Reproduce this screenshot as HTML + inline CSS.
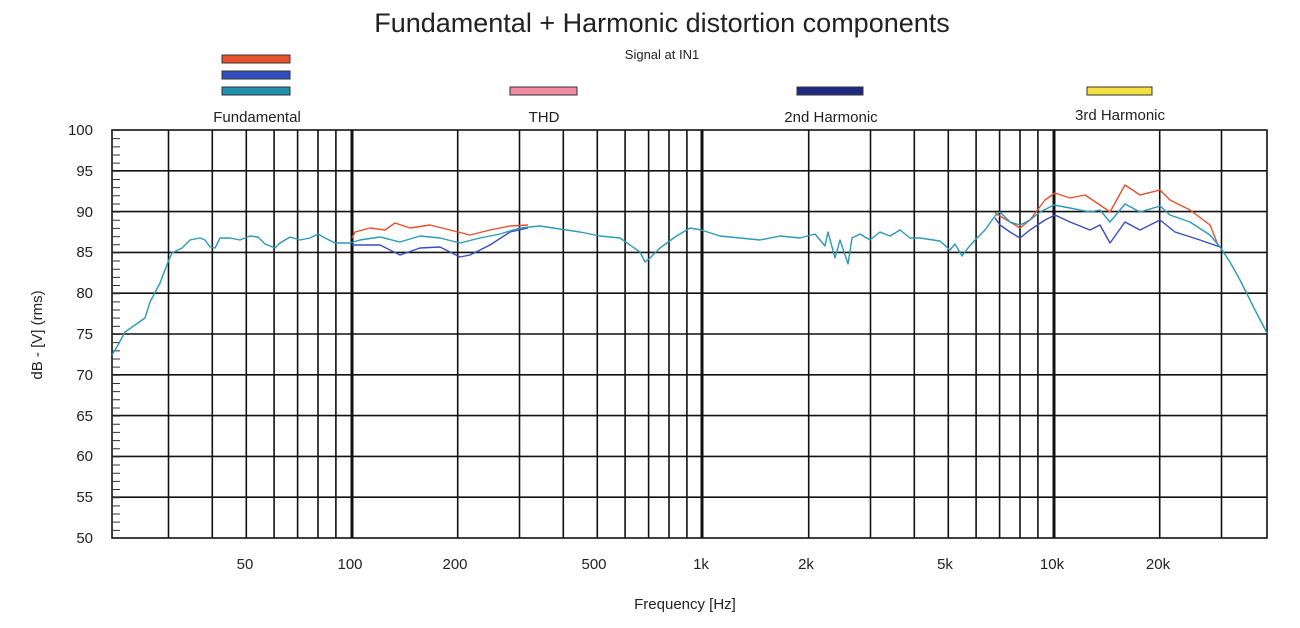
<!DOCTYPE html>
<html><head><meta charset="utf-8"><style>
body{margin:0;background:#fff;}
svg{display:block;font-family:"Liberation Sans",sans-serif;}
</style></head><body>
<svg width="1300" height="628" viewBox="0 0 1300 628" xmlns="http://www.w3.org/2000/svg">
<rect width="1300" height="628" fill="#fff"/>
<text x="662" y="32" font-size="27" text-anchor="middle" fill="#222">Fundamental + Harmonic distortion components</text>
<text x="662" y="59" font-size="13" text-anchor="middle" fill="#222">Signal at IN1</text>
<rect x="222" y="55" width="68" height="8" fill="#e8502c" stroke="#333" stroke-width="1"/>
<rect x="222" y="71" width="68" height="8" fill="#3050c0" stroke="#333" stroke-width="1"/>
<rect x="222" y="87" width="68" height="8" fill="#2090b0" stroke="#333" stroke-width="1"/>
<rect x="510" y="87" width="67" height="8" fill="#f08aa0" stroke="#333" stroke-width="1"/>
<rect x="797" y="87" width="66" height="8" fill="#202a80" stroke="#333" stroke-width="1"/>
<rect x="1087" y="87" width="65" height="8" fill="#f4e040" stroke="#333" stroke-width="1"/>
<g font-size="15" fill="#222" text-anchor="middle">
<text x="257" y="122">Fundamental</text>
<text x="544" y="122">THD</text>
<text x="831" y="122">2nd Harmonic</text>
<text x="1120" y="120">3rd Harmonic</text>
</g>
<g stroke="#111" stroke-width="1.6" fill="none">
<rect x="112" y="130" width="1155" height="408"/>
<line x1="112" x2="1267" y1="170.8" y2="170.8"/>
<line x1="112" x2="1267" y1="211.6" y2="211.6"/>
<line x1="112" x2="1267" y1="252.4" y2="252.4"/>
<line x1="112" x2="1267" y1="293.2" y2="293.2"/>
<line x1="112" x2="1267" y1="334" y2="334"/>
<line x1="112" x2="1267" y1="374.8" y2="374.8"/>
<line x1="112" x2="1267" y1="415.6" y2="415.6"/>
<line x1="112" x2="1267" y1="456.4" y2="456.4"/>
<line x1="112" x2="1267" y1="497.2" y2="497.2"/>
<line x1="116" x2="116" y1="130" y2="538" stroke-width="8" stroke-dasharray="1 7.16" stroke="#333"/>
<g>
<line x1="168.5" x2="168.5" y1="130" y2="538"/>
<line x1="212.3" x2="212.3" y1="130" y2="538"/>
<line x1="246.3" x2="246.3" y1="130" y2="538"/>
<line x1="274.1" x2="274.1" y1="130" y2="538"/>
<line x1="297.6" x2="297.6" y1="130" y2="538"/>
<line x1="318" x2="318" y1="130" y2="538"/>
<line x1="335.9" x2="335.9" y1="130" y2="538"/>
<line x1="352" x2="352" y1="130" y2="538" stroke-width="3"/>
<line x1="457.7" x2="457.7" y1="130" y2="538"/>
<line x1="519.5" x2="519.5" y1="130" y2="538"/>
<line x1="563.3" x2="563.3" y1="130" y2="538"/>
<line x1="597.3" x2="597.3" y1="130" y2="538"/>
<line x1="625.1" x2="625.1" y1="130" y2="538"/>
<line x1="648.6" x2="648.6" y1="130" y2="538"/>
<line x1="669" x2="669" y1="130" y2="538"/>
<line x1="686.9" x2="686.9" y1="130" y2="538"/>
<line x1="702" x2="702" y1="130" y2="538" stroke-width="3"/>
<line x1="808.7" x2="808.7" y1="130" y2="538"/>
<line x1="870.5" x2="870.5" y1="130" y2="538"/>
<line x1="914.3" x2="914.3" y1="130" y2="538"/>
<line x1="948.3" x2="948.3" y1="130" y2="538"/>
<line x1="976.1" x2="976.1" y1="130" y2="538"/>
<line x1="999.6" x2="999.6" y1="130" y2="538"/>
<line x1="1020" x2="1020" y1="130" y2="538"/>
<line x1="1037.9" x2="1037.9" y1="130" y2="538"/>
<line x1="1054" x2="1054" y1="130" y2="538" stroke-width="3"/>
<line x1="1159.7" x2="1159.7" y1="130" y2="538"/>
<line x1="1221.5" x2="1221.5" y1="130" y2="538"/>
</g>
</g>
<g fill="#222" font-size="15" text-anchor="end">
<text x="93" y="135">100</text><text x="93" y="176">95</text><text x="93" y="217">90</text>
<text x="93" y="257">85</text><text x="93" y="298">80</text><text x="93" y="339">75</text>
<text x="93" y="380">70</text><text x="93" y="421">65</text><text x="93" y="461">60</text>
<text x="93" y="502">55</text><text x="93" y="543">50</text>
</g>
<g fill="#222" font-size="15" text-anchor="middle">
<text x="245" y="569">50</text><text x="350" y="569">100</text><text x="455" y="569">200</text>
<text x="594" y="569">500</text><text x="701" y="569">1k</text><text x="806" y="569">2k</text>
<text x="945" y="569">5k</text><text x="1052" y="569">10k</text><text x="1158" y="569">20k</text>
</g>
<text x="685" y="609" font-size="15" text-anchor="middle" fill="#222">Frequency [Hz]</text>
<text transform="translate(42,335) rotate(-90)" font-size="15" text-anchor="middle" fill="#222">dB - [V]  (rms)</text>
<g fill="none" stroke-width="1.4" stroke-linejoin="round">
<polyline stroke="#e8502c" points="352,238 355,232 370,228 385,230 395,223 410,228 430,225 450,230 470,235 490,230 510,226 528,225"/>
<polyline stroke="#e8502c" points="995,213 1010,222 1020,228 1030,220 1045,200 1055,193 1070,198 1085,195 1100,205 1110,212 1125,185 1140,195 1160,190 1170,200 1190,210 1210,225 1218,245"/>
<polyline stroke="#3a4cc0" points="352,245 380,245 400,255 420,248 440,247 460,257 470,255 490,245 510,232 528,228"/>
<polyline stroke="#3a4cc0" points="995,218 1000,225 1010,232 1020,238 1030,230 1045,220 1055,215 1070,222 1090,230 1100,225 1110,243 1125,222 1140,230 1160,220 1175,232 1200,240 1220,247"/>
<polyline stroke="#2a9ab8" points="112,355 118,345 125,332 135,325 145,318 150,302 160,283 168,262 172,253 182,248 190,240 200,238 205,240 210,247 215,248 220,238 230,238 240,240 250,236 258,237 265,244 275,248 280,243 290,237 300,240 310,238 318,234 325,238 335,243 350,243 360,240 380,237 400,242 420,236 440,238 460,243 480,238 500,234 520,228 540,226 560,229 580,232 600,236 620,238 640,252 645,262 650,258 660,248 675,237 690,228 701,230 720,236 740,238 760,240 780,236 800,238 815,234 825,246 828,232 835,258 840,240 848,264 852,238 860,234 870,240 880,232 890,236 900,230 910,238 920,238 940,241 950,250 955,244 962,256 968,248 975,240 985,230 995,216 1000,212 1010,222 1020,225 1030,220 1040,212 1054,205 1070,208 1090,212 1100,210 1110,222 1125,204 1140,212 1160,206 1170,215 1190,222 1210,235 1220,247 1230,262 1240,280 1255,310 1267,333"/>
</g>
</svg>
</body></html>
